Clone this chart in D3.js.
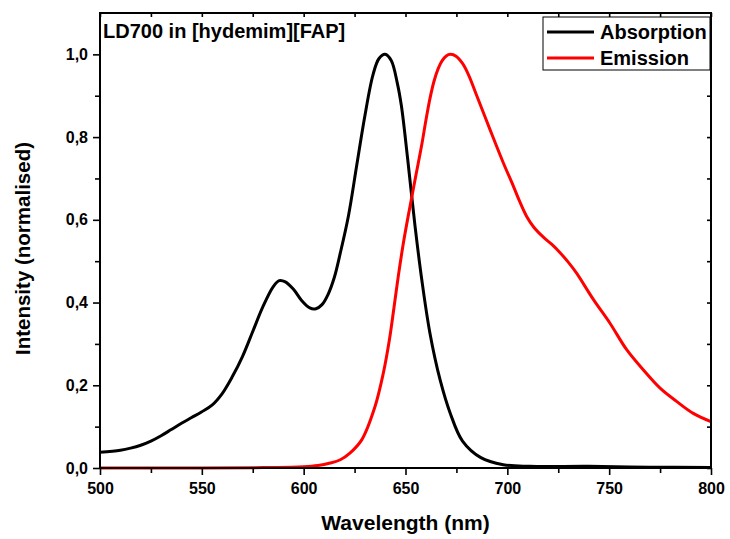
<!DOCTYPE html>
<html><head><meta charset="utf-8">
<script src="https://cdn.jsdelivr.net/npm/d3@7"></script>
<style>body{margin:0;background:#fff}svg{display:block}text{font-family:"Liberation Sans",Arial,sans-serif;font-weight:bold;fill:#000}</style>
</head><body>
<script>
const absWl  = [500,510,515,520,525,530,535,540,545,550,555,560,565,570,575,580,585,588,591,595,599,603,606,609,612,615,618,622,626,630,634,637,640,643,646,648,651,654.7,658,662,667,672,678,687,698,711,740,770,800];
const absVal = [0.038,0.043,0.048,0.055,0.065,0.078,0.093,0.108,0.122,0.136,0.152,0.18,0.221,0.27,0.33,0.39,0.438,0.453,0.45,0.432,0.405,0.387,0.385,0.395,0.42,0.46,0.52,0.61,0.73,0.85,0.95,0.99,1.0,0.985,0.93,0.875,0.75,0.584,0.455,0.326,0.213,0.132,0.065,0.025,0.008,0.004,0.004,0.002,0.001];
const emWl   = [500,550,580,600,607,613,618,622.7,628.5,635,639.1,642.1,644.4,646.5,649,652,655,658,660,662,664,666,668,670,672,675,678,681,685,691.5,698,703,706,709.5,713,717.7,722,726,730,734,742.3,750.4,758.6,766.8,775,783.1,791.3,800];
const emVal  = [0,0,0.001,0.003,0.006,0.012,0.02,0.036,0.068,0.148,0.229,0.31,0.39,0.465,0.545,0.627,0.705,0.782,0.84,0.893,0.935,0.965,0.985,0.996,1.0,0.995,0.978,0.95,0.9,0.818,0.738,0.681,0.645,0.608,0.582,0.558,0.54,0.52,0.497,0.471,0.407,0.35,0.286,0.237,0.193,0.161,0.132,0.112];
const xTicks = [500,550,600,650,700,750,800];
const yTicks = [0,0.2,0.4,0.6,0.8,1.0];
const title = "LD700 in [hydemim][FAP]";
const seriesNames = ["Absorption","Emission"];
const seriesColors = ["#000000","#ff0000"];

const W=730,H=539, L=100,R=711,T=13,B=468;
const svg=d3.select("body").append("svg").attr("width",W).attr("height",H);
const x=d3.scaleLinear().domain([500,800]).range([L,R]);
const y=d3.scaleLinear().domain([0,1.1]).range([B,T]);
const fmt=d=>d3.format(".1f")(d).replace(".",",");

// curves
const line=d3.line().x(d=>x(d[0])).y(d=>y(d[1])).curve(d3.curveCatmullRom.alpha(0.5));
const absData=absWl.map((w,i)=>[w,absVal[i]]);
const emData=emWl.map((w,i)=>[w,emVal[i]]);
svg.append("path").datum(absData).attr("d",line).attr("fill","none").attr("stroke",seriesColors[0]).attr("stroke-width",3);
svg.append("path").datum(emData).attr("d",line).attr("fill","none").attr("stroke",seriesColors[1]).attr("stroke-width",3);

// axes
const xMinor=d3.range(525,800,50);
const yMinor=[0.1,0.3,0.5,0.7,0.9];
const font="'Liberation Sans',Arial,sans-serif";
const gb=svg.append("g").attr("transform",`translate(0,${B})`).call(d3.axisBottom(x).tickValues(xTicks).tickSize(7).tickPadding(8).tickFormat(d3.format("d")));
const gbm=svg.append("g").attr("transform",`translate(0,${B})`).call(d3.axisBottom(x).tickValues(xMinor).tickSize(5).tickFormat(""));
const gl=svg.append("g").attr("transform",`translate(${L},0)`).call(d3.axisLeft(y).tickValues(yTicks).tickSize(7).tickPadding(5).tickFormat(fmt));
const glm=svg.append("g").attr("transform",`translate(${L},0)`).call(d3.axisLeft(y).tickValues(yMinor).tickSize(5).tickFormat(""));
const gt=svg.append("g").attr("transform",`translate(0,${T})`).call(d3.axisBottom(x).tickValues(xTicks.concat(xMinor)).tickSize(4).tickFormat(""));
const gr=svg.append("g").attr("transform",`translate(${R},0)`).call(d3.axisLeft(y).tickValues(yTicks.concat(yMinor)).tickSize(4).tickFormat(""));
[gb,gbm,gl,glm,gt,gr].forEach(g=>{g.select(".domain").remove();g.selectAll("line").attr("stroke","#000").attr("stroke-width",1.6);});
[gb,gl].forEach(g=>g.selectAll("text").style("font-size","16px").style("font-family",font).style("font-weight","bold"));
svg.append("rect").attr("x",L).attr("y",T).attr("width",R-L).attr("height",B-T).attr("fill","none").attr("stroke","#000").attr("stroke-width",2);

// labels
svg.append("text").attr("x",(L+R)/2).attr("y",530).attr("text-anchor","middle").style("font-size","21px").text("Wavelength (nm)");
svg.append("text").attr("transform",`translate(30,${(T+B)/2+8}) rotate(-90)`).attr("text-anchor","middle").style("font-size","20.5px").text("Intensity (normalised)");
svg.append("text").attr("x",103).attr("y",38).style("font-size","20px").text(title);

// legend
const lg=svg.append("g");
lg.append("rect").attr("x",543).attr("y",17).attr("width",167).attr("height",53).attr("fill","#fff").attr("stroke","#000").attr("stroke-width",1);
seriesNames.forEach((n,i)=>{
  const yy=32+i*26;
  lg.append("line").attr("x1",547).attr("x2",594).attr("y1",yy).attr("y2",yy).attr("stroke",seriesColors[i]).attr("stroke-width",3);
  lg.append("text").attr("x",600).attr("y",yy+7).style("font-size","20px").text(n);
});
</script>
</body></html>
